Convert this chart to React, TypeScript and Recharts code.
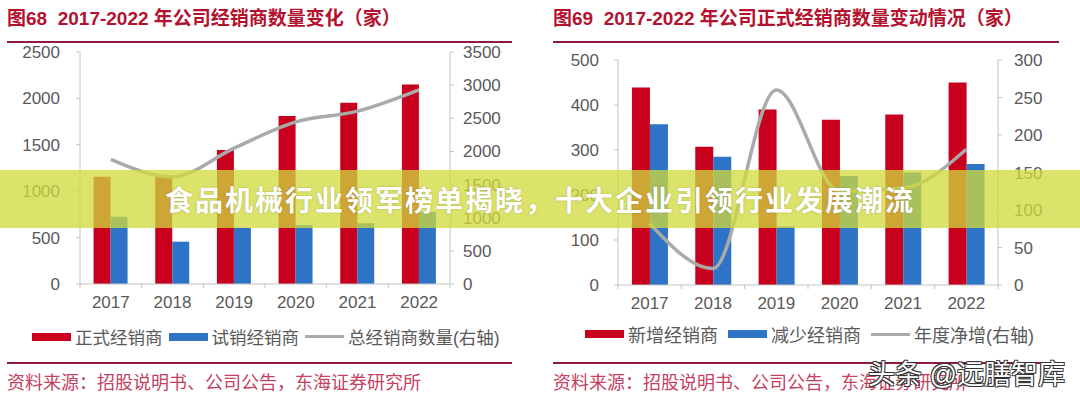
import React from "react";
import { Bar, ComposedChart, Line, XAxis, YAxis } from "recharts";

// 图68 经销商数量
const years = ["2017", "2018", "2019", "2020", "2021", "2022"];
const formalDealers = [1156, 1160, 1444, 1810, 1954, 2151];
const trialDealers = [725, 456, 607, 636, 654, 779];
const totalDealers = [1881, 1616, 2051, 2446, 2608, 2930];
const leftTicksA = [0, 500, 1000, 1500, 2000, 2500];
const rightTicksA = [0, 500, 1000, 1500, 2000, 2500, 3000, 3500];
const legendA = ["正式经销商", "试销经销商", "总经销商数量(右轴)"];

// 图69 正式经销商变动
const addedDealers = [439, 307, 390, 367, 379, 450];
const removedDealers = [357, 285, 130, 242, 250, 269];
const netIncrease = [82, 22, 260, 125, 129, 181];
const leftTicksB = [0, 100, 200, 300, 400, 500];
const rightTicksB = [0, 50, 100, 150, 200, 250, 300];
const legendB = ["新增经销商", "减少经销商", "年度净增(右轴)"];

const dataA = years.map((year, i) => ({
  year,
  formal: formalDealers[i],
  trial: trialDealers[i],
  total: totalDealers[i],
}));

const dataB = years.map((year, i) => ({
  year,
  added: addedDealers[i],
  removed: removedDealers[i],
  net: netIncrease[i],
}));

const RED = "#c8001e";
const BLUE = "#2e73c6";
const GRAY_LINE = "#aaaaaa";
const AXIS = "#c4c4c4";
const TEXT = "#595959";
const TITLE = "#b3122f";
const RULE = "#8e1b3b";
const SOURCE = "#c4415f";
const FONT = '"Liberation Sans", "Noto Sans CJK SC", sans-serif';

const TICK_SIZE = 4;
const TICK_MARGIN = 8;

// x ticks sit between the categories, labels in the middle
const YearTick = (props: any) => {
  const { x, y, payload, index } = props;
  const half = payload.offset ?? 0;
  const top = y - TICK_MARGIN - TICK_SIZE;
  return (
    <g>
      <line x1={x - half} x2={x - half} y1={top} y2={top + TICK_SIZE} stroke={AXIS} />
      {index === years.length - 1 && (
        <line x1={x + half} x2={x + half} y1={top} y2={top + TICK_SIZE} stroke={AXIS} />
      )}
      <text x={x} y={y} dy="0.71em" textAnchor="middle" fill={TEXT} fontSize={17} fontFamily={FONT}>
        {payload.value}
      </text>
    </g>
  );
};

const tickStyle = { fill: TEXT, fontSize: 17, fontFamily: FONT };

const LegendRow = ({
  labels,
  left,
  top,
  fontSize,
  gap,
}: {
  labels: string[];
  left: number;
  top: number;
  fontSize: number;
  gap: number;
}) => {
  const swatch = [RED, BLUE, GRAY_LINE];
  return (
    <div
      style={{
        position: "absolute",
        left,
        top,
        display: "flex",
        alignItems: "center",
        fontSize,
        color: TEXT,
        whiteSpace: "nowrap",
      }}
    >
      {labels.map((label, i) => (
        <span key={label} style={{ display: "flex", alignItems: "center", marginRight: gap }}>
          <span
            style={{
              display: "inline-block",
              width: 39,
              height: i === 2 ? 3 : 8,
              background: swatch[i],
              marginRight: 4,
            }}
          />
          <span>{label}</span>
        </span>
      ))}
    </div>
  );
};

const Title = ({ text, left, width }: { text: string; left: number; width: number }) => (
  <>
    <div
      style={{
        position: "absolute",
        left,
        top: 5,
        fontSize: 19,
        fontWeight: 700,
        color: TITLE,
        whiteSpace: "pre",
        lineHeight: "28px",
      }}
    >
      {text}
    </div>
    <div style={{ position: "absolute", left, top: 41, width, height: 2, background: RULE }} />
    <div style={{ position: "absolute", left, top: 362, width, height: 2, background: RULE }} />
    <div
      style={{
        position: "absolute",
        left,
        top: 371,
        fontSize: 18,
        color: SOURCE,
        whiteSpace: "nowrap",
        lineHeight: "24px",
      }}
    >
      资料来源：招股说明书、公司公告，东海证券研究所
    </div>
  </>
);

export default function App() {
  return (
    <div
      style={{
        position: "absolute",
        left: 0,
        top: 0,
        width: 1080,
        height: 399,
        overflow: "hidden",
        background: "#fff",
        fontFamily: FONT,
      }}
    >
      <Title text="图68  2017-2022 年公司经销商数量变化（家）" left={7} width={505} />
      <Title text="图69  2017-2022 年公司正式经销商数量变动情况（家）" left={553} width={506} />

      <div style={{ position: "absolute", left: 0, top: 0 }}>
        <ComposedChart
          width={540}
          height={330}
          data={dataA}
          margin={{ top: 52, right: 0, bottom: 16, left: 0 }}
          barCategoryGap="22%"
          barGap={0}
        >
          <XAxis
            dataKey="year"
            height={30}
            interval={0}
            tickLine={false}
            tickSize={TICK_SIZE}
            tickMargin={TICK_MARGIN}
            axisLine={{ stroke: AXIS }}
            tick={<YearTick />}
          />
          <YAxis
            yAxisId="l"
            orientation="left"
            width={80}
            domain={[0, 2500]}
            ticks={leftTicksA}
            interval={0}
            tickSize={4}
            tickMargin={16}
            tickLine={{ stroke: AXIS }}
            axisLine={{ stroke: AXIS }}
            tick={tickStyle}
          />
          <YAxis
            yAxisId="r"
            orientation="right"
            width={90}
            domain={[0, 3500]}
            ticks={rightTicksA}
            interval={0}
            tickSize={4}
            tickMargin={9}
            tickLine={{ stroke: AXIS }}
            axisLine={{ stroke: AXIS }}
            tick={tickStyle}
          />
          <Bar yAxisId="l" dataKey="formal" fill={RED} isAnimationActive={false} />
          <Bar yAxisId="l" dataKey="trial" fill={BLUE} isAnimationActive={false} />
          <Line
            yAxisId="r"
            type="monotone"
            dataKey="total"
            stroke={GRAY_LINE}
            strokeWidth={3.5}
            dot={false}
            isAnimationActive={false}
          />
        </ComposedChart>
      </div>

      <div style={{ position: "absolute", left: 540, top: 0 }}>
        <ComposedChart
          width={540}
          height={330}
          data={dataB}
          margin={{ top: 60, right: 0, bottom: 15, left: 0 }}
          barCategoryGap="22%"
          barGap={0}
        >
          <XAxis
            dataKey="year"
            height={30}
            interval={0}
            tickLine={false}
            tickSize={TICK_SIZE}
            tickMargin={TICK_MARGIN}
            axisLine={{ stroke: AXIS }}
            tick={<YearTick />}
          />
          <YAxis
            yAxisId="l"
            orientation="left"
            width={78}
            domain={[0, 500]}
            ticks={leftTicksB}
            interval={0}
            tickSize={4}
            tickMargin={15}
            tickLine={{ stroke: AXIS }}
            axisLine={{ stroke: AXIS }}
            tick={tickStyle}
          />
          <YAxis
            yAxisId="r"
            orientation="right"
            width={82}
            domain={[0, 300]}
            ticks={rightTicksB}
            interval={0}
            tickSize={4}
            tickMargin={12}
            tickLine={{ stroke: AXIS }}
            axisLine={{ stroke: AXIS }}
            tick={tickStyle}
          />
          <Bar yAxisId="l" dataKey="added" fill={RED} isAnimationActive={false} />
          <Bar yAxisId="l" dataKey="removed" fill={BLUE} isAnimationActive={false} />
          <Line
            yAxisId="r"
            type="monotone"
            dataKey="net"
            stroke={GRAY_LINE}
            strokeWidth={3.5}
            dot={false}
            isAnimationActive={false}
          />
        </ComposedChart>
      </div>

      <LegendRow labels={legendA} left={32} top={324} fontSize={17.5} gap={6} />
      <LegendRow labels={legendB} left={585} top={321} fontSize={18} gap={10} />

      {/* banner laid over both charts */}
      <div
        style={{
          position: "absolute",
          left: 0,
          top: 170,
          width: 1080,
          height: 58,
          background: "rgba(208, 218, 60, 0.76)",
          display: "flex",
          alignItems: "center",
          justifyContent: "center",
          color: "#fff",
          fontSize: 28,
          fontWeight: 700,
          letterSpacing: 2,
          textShadow: "0 0 2px rgba(0,0,0,0.25)",
          whiteSpace: "nowrap",
        }}
      >
        食品机械行业领军榜单揭晓，十大企业引领行业发展潮流
      </div>

      <div
        style={{
          position: "absolute",
          left: 868,
          top: 357,
          fontSize: 27,
          color: "#fff",
          whiteSpace: "nowrap",
          lineHeight: "36px",
          textShadow:
            "1px 1px 0 #333, -1px -1px 0 #333, 1px -1px 0 #333, -1px 1px 0 #333",
        }}
      >
        头条 @远膳智库
      </div>
    </div>
  );
}
